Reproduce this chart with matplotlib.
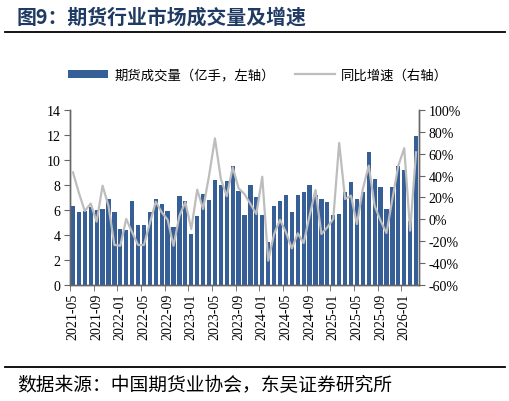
import matplotlib
matplotlib.use("Agg")
import matplotlib.pyplot as plt
from matplotlib.patches import Patch
from matplotlib.lines import Line2D
import numpy as np
import pandas as pd

plt.rcParams['font.family'] = ['Liberation Serif', 'Noto Sans CJK SC', 'DejaVu Sans']

# monthly futures volume (亿手) and YoY growth (%), 2021-05 .. 2026-03
months = pd.period_range('2021-05', '2026-03', freq='M').strftime('%Y-%m').tolist()
volume = [6.3, 5.8, 5.9, 6.2, 6.0, 6.1, 6.9, 5.8,
          4.5, 4.4, 6.7, 4.8, 4.8, 5.8, 6.9, 6.5, 5.9, 4.6, 7.1, 6.7,
          4.1, 5.5, 7.3, 6.8, 8.4, 8.0, 8.3, 9.5, 7.5, 5.6, 8.0, 7.0,
          5.6, 3.4, 6.3, 6.7, 7.2, 5.8, 7.2, 7.4, 8.0, 7.2, 6.9, 6.6,
          5.6, 5.7, 7.4, 8.2, 6.9, 7.4, 10.6, 8.5, 7.8, 6.1, 7.8, 9.5,
          9.2, 5.1, 11.9]
yoy = [42.9, 24.0, 7.5, 14.3, -2.3, 30.7, 12.3, -23.6,
       -24.3, 0.2, -12.0, -23.6, -23.6, -3.5, 16.0, 6.3, -0.5, -24.3, 3.2, 15.5,
       -9.0, 27.0, 9.3, 39.8, 74.0, 36.8, 21.0, 47.5, 28.3, 23.0, 13.9, 4.7,
       38.9, -38.0, -13.6, -0.5, -12.0, -26.7, -13.0, -21.8, 3.2, 26.7, -13.6, -7.4,
       0.2, 69.8, 18.5, 21.5, -4.4, 27.6, 49.0, 12.3, -1.4, -12.7, 18.5, 49.0,
       65.0, -10.5, 61.2]
tick_labels = ['2021-05', '2021-09', '2022-01', '2022-05', '2022-09', '2023-01',
               '2023-05', '2023-09', '2024-01', '2024-05', '2024-09', '2025-01',
               '2025-05', '2025-09', '2026-01']

bar_color = '#365F97'
line_color = '#BDBDBD'
axis_color = '#666666'

fig = plt.figure(figsize=(5.1, 4.02), dpi=100)
ax = fig.add_axes([0.1373, 0.2893, 0.6843, 0.4346])
ax2 = ax.twinx()

x = np.arange(len(months))
ax.bar(x, volume, width=0.72, color=bar_color, zorder=2)
ax2.plot(x, yoy, color=line_color, lw=1.6, zorder=3)

ax.set_xlim(-0.5, len(months) - 0.5)
ax.set_ylim(0, 14)
ax.set_yticks(np.arange(0, 15, 2))
ax2.set_ylim(-60, 100)
ax2.set_yticks(np.arange(-60, 101, 20))
ax2.set_yticklabels([f'{v}%' for v in range(-60, 101, 20)])

# labels centred on month, tick marks on month boundaries
pos = [months.index(t) for t in tick_labels]
ax.set_xticks(pos)
ax.set_xticklabels(tick_labels, rotation=90)
ax.set_xticks([p - 0.5 for p in pos], minor=True)
ax.tick_params(axis='x', which='major', length=0, pad=6, labelsize=10)
ax.tick_params(axis='x', which='minor', length=4, color=axis_color, direction='out')
ax.tick_params(axis='y', length=4, color=axis_color, labelsize=10, pad=3)
ax2.tick_params(axis='y', length=4, color=axis_color, labelsize=10, pad=3)

for a in (ax, ax2):
    a.spines['top'].set_visible(False)
    for s in ('left', 'right', 'bottom'):
        a.spines[s].set_color(axis_color)
        a.spines[s].set_linewidth(1.0)
ax2.set_zorder(ax.get_zorder() + 1)
ax2.patch.set_visible(False)

handles = [Patch(facecolor=bar_color, edgecolor='none'),
           Line2D([0], [0], color=line_color, lw=1.6)]
fig.legend(handles, ['期货成交量（亿手，左轴）', '同比增速（右轴）'],
           loc='center', bbox_to_anchor=(0.506, 0.811), ncol=2, frameon=False,
           fontsize=9.6, handlelength=3.0, handleheight=0.5, columnspacing=1.5,
           handletextpad=0.45)

# title, rules and source
fig.text(0.033, 0.957, '图9：期货行业市场成交量及增速', fontsize=14.3,
         fontweight='bold', color='#1F3A63', va='center', ha='left',
         family=['Noto Sans CJK SC', 'DejaVu Sans'])
fig.add_artist(Line2D([0.01, 0.99], [0.918, 0.918], color='black', lw=1.3))
fig.add_artist(Line2D([0.01, 0.99], [0.085, 0.085], color='black', lw=1.3))
fig.text(0.033, 0.041, '数据来源：中国期货业协会，东吴证券研究所', fontsize=13.5,
         va='center', ha='left', family=['Noto Sans CJK SC', 'DejaVu Sans'])

fig.savefig('out.png', dpi=100)
